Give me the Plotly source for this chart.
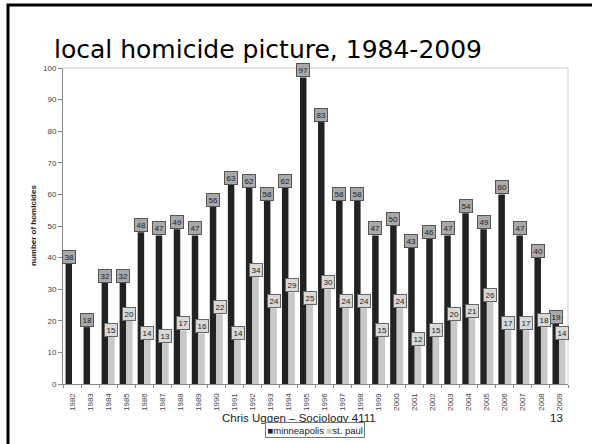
import plotly.graph_objects as go

# Annual homicide counts
years = list(range(1982, 2010))
minneapolis = [38, 18, 32, 32, 48, 47, 49, 47, 56, 63, 62, 58, 62, 97,
               83, 58, 58, 47, 50, 43, 46, 47, 54, 49, 60, 47, 40, 19]
st_paul = [None, None, 15, 20, 14, 13, 17, 16, 22, 14, 34, 24, 29, 25,
           30, 24, 24, 15, 24, 12, 15, 20, 21, 26, 17, 17, 18, 14]
year_labels = [str(y) for y in years]

W, H = 592, 444
ML, MR, MT, MB = 63, 24, 68, 60
PW, PH = W - ML - MR, H - MT - MB


def px_x(px):
    return (px - ML) / PW


def px_y(py):
    return (H - MB - py) / PH


BW = 0.36
DARK, LIGHT = "#222222", "#c8c8c8"

fig = go.Figure()
fig.add_trace(go.Bar(x=years, y=minneapolis, name="minneapolis", width=BW,
                     offset=-BW, marker=dict(color=DARK, line=dict(width=0))))
fig.add_trace(go.Bar(x=years, y=st_paul, name="st. paul", width=BW,
                     offset=0, marker=dict(color=LIGHT, line=dict(width=0))))

annotations = []
# boxed value labels on top of each bar
for yr, v in zip(years, minneapolis):
    annotations.append(dict(x=yr - BW / 2, y=v, xref="x", yref="y", text=str(v),
                            showarrow=False, yanchor="bottom", xanchor="center",
                            font=dict(size=8, color="#222", family="Liberation Sans"),
                            bgcolor="#a9a9a9", bordercolor="#555", borderwidth=1,
                            borderpad=1.5))
for yr, v in zip(years, st_paul):
    if v is None:
        continue
    annotations.append(dict(x=yr + BW / 2, y=v, xref="x", yref="y", text=str(v),
                            showarrow=False, yanchor="bottom", xanchor="center",
                            font=dict(size=8, color="#222", family="Liberation Sans"),
                            bgcolor="#d9d9d9", bordercolor="#666", borderwidth=1,
                            borderpad=1.5))

# slide title
annotations.append(dict(x=px_x(268), y=px_y(50), xref="paper", yref="paper",
                        text="local homicide picture, 1984-2009", showarrow=False,
                        xanchor="center", yanchor="middle",
                        font=dict(size=25, color="#000", family="DejaVu Sans")))
# axis title
annotations.append(dict(x=px_x(33), y=0.5, xref="paper", yref="paper",
                        text="<b>number of homicides</b>", showarrow=False,
                        textangle=-90, xanchor="center", yanchor="middle",
                        font=dict(size=8, color="#222", family="Liberation Sans")))
# footer
annotations.append(dict(x=px_x(299), y=px_y(418), xref="paper", yref="paper",
                        text="Chris Uggen – Sociology 4111", showarrow=False,
                        xanchor="center", yanchor="middle",
                        font=dict(size=11.5, color="#222", family="Liberation Sans")))
annotations.append(dict(x=px_x(556), y=px_y(418), xref="paper", yref="paper",
                        text="13", showarrow=False, xanchor="center", yanchor="middle",
                        font=dict(size=11.5, color="#222", family="Liberation Sans")))
# compact legend
annotations.append(dict(x=px_x(315), y=px_y(430), xref="paper", yref="paper",
                        text=f"<span style='color:{DARK}'>■</span>minneapolis "
                             f"<span style='color:{LIGHT}'>■</span>st. paul",
                        showarrow=False, xanchor="center", yanchor="middle",
                        bgcolor="white", bordercolor="#777777", borderwidth=1,
                        borderpad=1.5,
                        font=dict(size=9.5, color="#222", family="Liberation Sans")))

shapes = [
    # plot-area frame (top and right)
    dict(type="line", xref="paper", yref="paper", x0=0, x1=1, y0=1, y1=1,
         line=dict(color="#cccccc", width=1)),
    dict(type="line", xref="paper", yref="paper", x0=1, x1=1, y0=0, y1=1,
         line=dict(color="#cccccc", width=1)),
    # slide frame
    dict(type="rect", xref="paper", yref="paper",
         x0=px_x(8), x1=px_x(620), y0=px_y(470), y1=px_y(5),
         line=dict(color="#000", width=3), fillcolor="rgba(0,0,0,0)"),
]

fig.update_layout(
    width=W, height=H,
    margin=dict(l=ML, r=MR, t=MT, b=MB),
    paper_bgcolor="white", plot_bgcolor="white",
    showlegend=False,
    barmode="overlay",
    annotations=annotations,
    shapes=shapes,
    font=dict(family="Liberation Sans"),
    xaxis=dict(range=[1981.5, 2009.5], tickmode="array", tickvals=years,
               ticktext=year_labels, tickangle=-90,
               tickfont=dict(size=8, color="#444"),
               ticks="outside", ticklen=5, tickcolor="rgba(0,0,0,0)",
               showline=True, linecolor="#888", linewidth=1, showgrid=False,
               zeroline=False,
               minor=dict(tick0=1981.5, dtick=1, ticks="outside", ticklen=3,
                          tickcolor="#888", showgrid=False)),
    yaxis=dict(range=[0, 100], dtick=10, ticks="outside", ticklen=4,
               tickcolor="#888", tickfont=dict(size=8, color="#444"),
               showline=True, linecolor="#888", linewidth=1, showgrid=False,
               zeroline=False),
)

fig.write_html("out.html")
